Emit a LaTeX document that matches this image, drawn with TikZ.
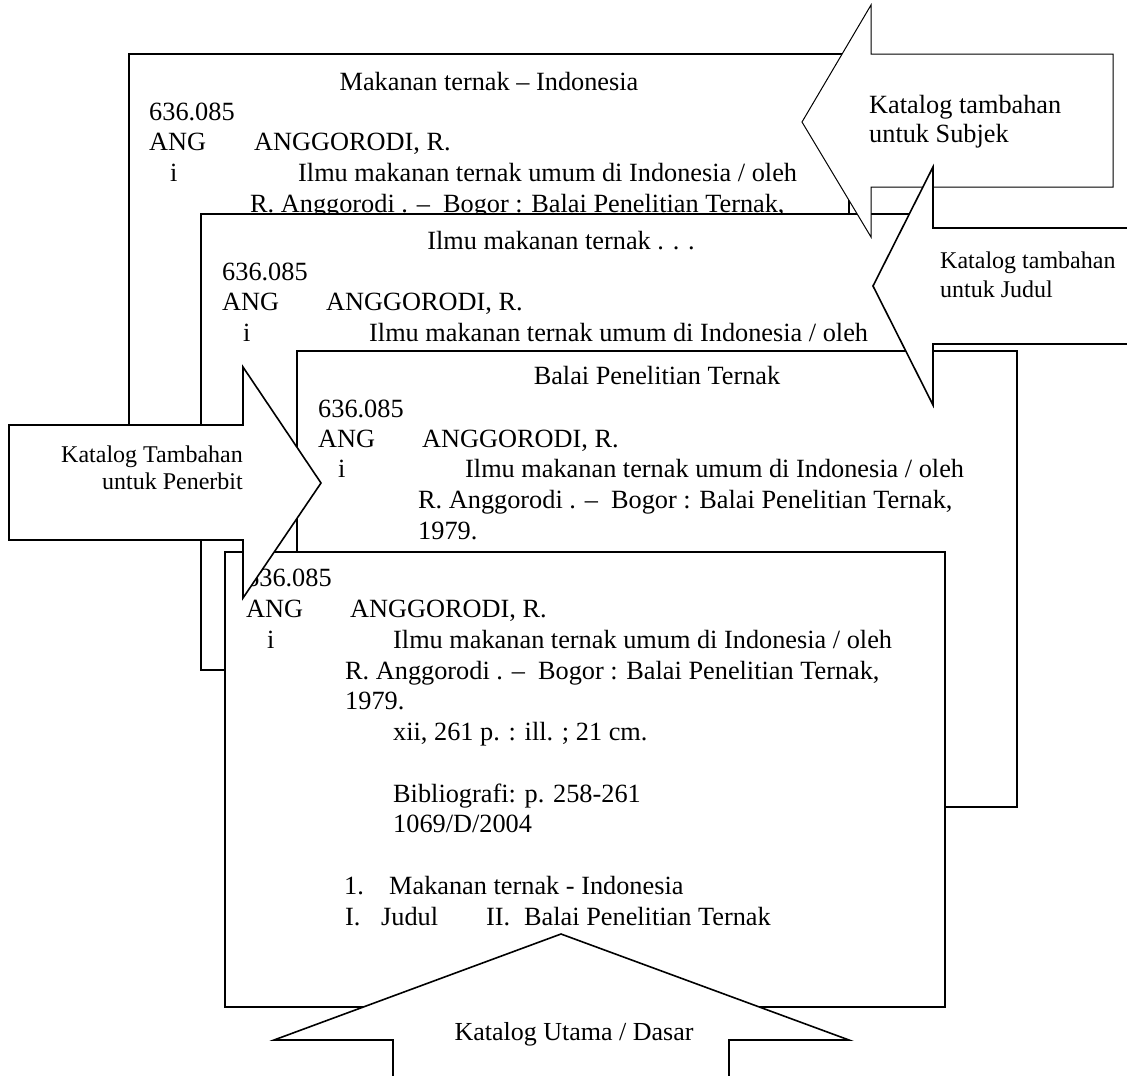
\documentclass[tikz,border=0pt]{standalone}
\usepackage{fontspec}
\setmainfont{Liberation Serif}
\tikzset{
  card/.style={draw, fill=white, line width=1.8pt},
  pointer/.style={draw, fill=white, line width=1.6pt, line join=miter},
  txt/.style={inner sep=0pt, anchor=base west, font=\fontsize{26.3}{30}\selectfont},
  head/.style={txt, anchor=base},
  small/.style={inner sep=0pt, anchor=base west, font=\fontsize{24}{28}\selectfont}
}
\begin{document}
\begin{tikzpicture}[x=1pt,y=-1pt]
	\useasboundingbox (0,0) rectangle (1127,1076);
	\clip (0,0) rectangle (1127,1076);
	% kartu subjek
	\begin{scope}[shift={(129,54)}]
		\draw[card] (0,0) rectangle (720,456);
		\node[head] (s-head) at (360,36) {Makanan ternak – Indonesia};
		\node[txt] (s-no) at (20,66) {636.085};
		\node[txt] (s-ang) at (20,96) {ANG};
		\node[txt] (s-pgr) at (125,96) {ANGGORODI, R.};
		\node[txt] (s-i) at (41,127) {i};
		\node[txt] (s-jdl) at (169,127) {Ilmu makanan ternak umum di Indonesia / oleh};
		\node[txt] (s-imp) at (121,158) {R. Anggorodi . –\ \ Bogor : Balai Penelitian Ternak,};
	\end{scope}
	% kartu judul
	\begin{scope}[shift={(201,214)}]
		\draw[card] (0,0) rectangle (720,456);
		\node[head] (j-head) at (360,35) {Ilmu makanan ternak . . .};
		\node[txt] (j-no) at (21,66) {636.085};
		\node[txt] (j-ang) at (21,96) {ANG};
		\node[txt] (j-pgr) at (125,96) {ANGGORODI, R.};
		\node[txt] (j-i) at (42,127) {i};
		\node[txt] (j-jdl) at (168,127) {Ilmu makanan ternak umum di Indonesia / oleh};
	\end{scope}
	% kartu penerbit
	\begin{scope}[shift={(297,351)}]
		\draw[card] (0,0) rectangle (720,456);
		\node[head] (p-head) at (360,33) {Balai Penelitian Ternak};
		\node[txt] (p-no) at (21,66) {636.085};
		\node[txt] (p-ang) at (21,96) {ANG};
		\node[txt] (p-pgr) at (125,96) {ANGGORODI, R.};
		\node[txt] (p-i) at (41,126) {i};
		\node[txt] (p-jdl) at (168,126) {Ilmu makanan ternak umum di Indonesia / oleh};
		\node[txt] (p-imp) at (121,157) {R. Anggorodi . –\ \ Bogor : Balai Penelitian Ternak,};
		\node[txt] (p-thn) at (121,188) {1979.};
	\end{scope}
	% panah subjek dan judul
	\draw[pointer, line width=1pt] (802,122) -- (871,5) -- (871,54) -- (1113,54) -- (1113,187) -- (871,187) -- (871,237) -- cycle;
	\node[txt] (subjek1) at (869,113) {Katalog tambahan};
	\node[txt] (subjek2) at (869,142) {untuk Subjek};
	\draw[pointer] (873,286) -- (933,167) -- (933,228) -- (1140,228) -- (1140,344) -- (933,344) -- (933,405) -- cycle;
	\node[small] (judul1) at (940,268) {Katalog tambahan};
	\node[small] (judul2) at (940,297) {untuk Judul};
	% kartu utama
	\begin{scope}[shift={(225,552)}]
		\draw[card] (0,0) rectangle (720,455);
		\node[txt] (u-no) at (21,34) {636.085};
		\node[txt] (u-ang) at (21,65) {ANG};
		\node[txt] (u-pgr) at (125,65) {ANGGORODI, R.};
		\node[txt] (u-i) at (42,96) {i};
		\node[txt] (u-jdl) at (168,96) {Ilmu makanan ternak umum di Indonesia / oleh};
		\node[txt] (u-imp) at (120,127) {R. Anggorodi . –\ \ Bogor : Balai Penelitian Ternak,};
		\node[txt] (u-thn) at (120,157) {1979.};
		\node[txt] (u-fis) at (168,188) {xii, 261 p. : ill. ; 21 cm.};
		\node[txt] (u-bib) at (168,250) {Bibliografi: p. 258-261};
		\node[txt] (u-reg) at (168,280) {1069/D/2004};
		\node[txt] (u-n1) at (119,342) {1.};
		\node[txt] (u-sub) at (164,342) {Makanan ternak - Indonesia};
		\node[txt] (u-r1) at (120,373) {I.};
		\node[txt] (u-ej) at (156,373) {Judul};
		\node[txt] (u-r2) at (261,373) {II.};
		\node[txt] (u-ep) at (299,373) {Balai Penelitian Ternak};
	\end{scope}
	% panah penerbit dan utama
	\draw[pointer] (321,483) -- (243,598) -- (243,540) -- (9,540) -- (9,425) -- (243,425) -- (243,367) -- cycle;
	\node[small, anchor=base east] (penerbit1) at (243,462) {Katalog Tambahan};
	\node[small, anchor=base east] (penerbit2) at (243,489) {untuk Penerbit};
	\draw[pointer] (561,934) -- (849,1040) -- (729,1040) -- (729,1090) -- (393,1090) -- (393,1040) -- (274,1040) -- cycle;
	\node[small, anchor=base, font=\fontsize{26}{30}\selectfont] (utama) at (574,1040) {Katalog Utama / Dasar};
\end{tikzpicture}
\end{document}
